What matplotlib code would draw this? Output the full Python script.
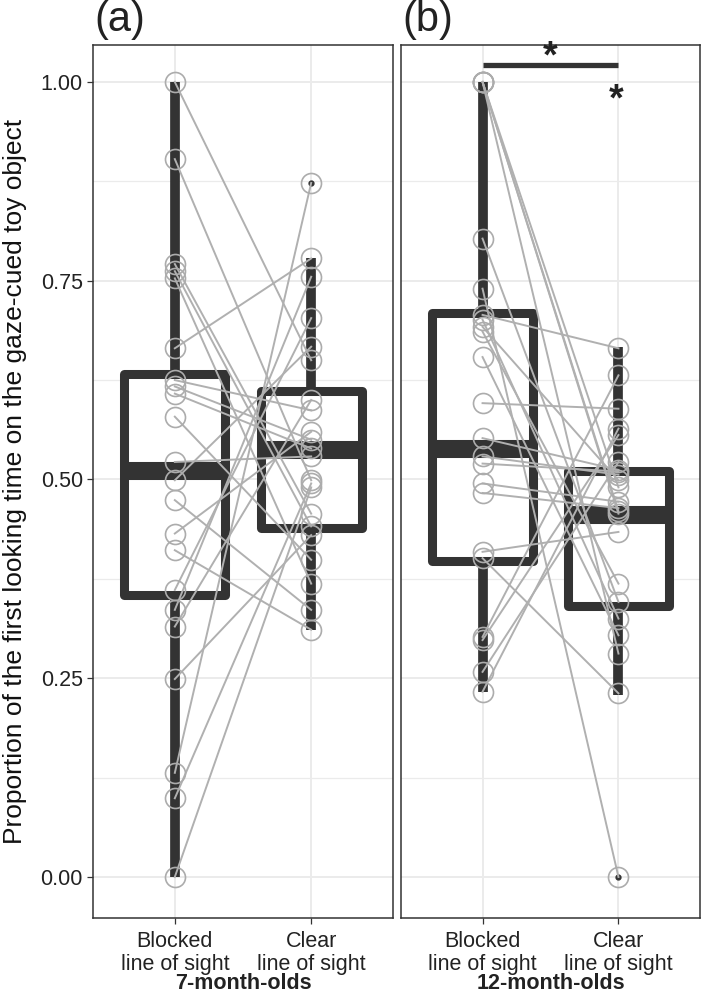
import matplotlib
matplotlib.use('Agg')
import matplotlib.pyplot as plt
import numpy as np

plt.rcParams['font.family'] = ['Liberation Sans', 'DejaVu Sans']

conditions = ['Blocked\nline of sight', 'Clear\nline of sight']
groups = ['7-month-olds', '12-month-olds']
tags = ['(a)', '(b)']

# paired values, index i is the same infant in both conditions
blocked_7 = [1.0, 0.903, 0.771, 0.762, 0.753, 0.665, 0.625, 0.617, 0.608, 0.579, 0.522,
             0.499, 0.474, 0.432, 0.411, 0.361, 0.336, 0.315, 0.249, 0.131, 0.099, 0.0]
clear_7 = [0.650, 0.499, 0.457, 0.441, 0.369, 0.778, 0.587, 0.550, 0.539, 0.399, 0.529,
           0.667, 0.336, 0.560, 0.311, 0.703, 0.755, 0.600, 0.430, 0.873, 0.495, 0.490]

blocked_12 = [1.0, 1.0, 1.0, 1.0, 0.803, 0.740, 0.707, 0.701, 0.692, 0.686, 0.654, 0.596,
              0.552, 0.529, 0.520, 0.495, 0.483, 0.409, 0.401, 0.302, 0.298, 0.258, 0.233]
clear_12 = [0.281, 0.457, 0.460, 0.490, 0.346, 0.0, 0.665, 0.325, 0.499, 0.369, 0.304, 0.589,
            0.512, 0.506, 0.510, 0.472, 0.464, 0.434, 0.231, 0.631, 0.556, 0.522, 0.564]

# box summaries: q1, median, q3, whisker ends, outliers
q1_7 = [0.355, 0.439]
med_7 = [0.511, 0.537]
q3_7 = [0.633, 0.611]
wlo_7 = [0.0, 0.311]
whi_7 = [1.0, 0.778]
out_7 = [[], [0.873]]

q1_12 = [0.398, 0.341]
med_12 = [0.538, 0.455]
q3_12 = [0.709, 0.511]
wlo_12 = [0.233, 0.229]
whi_12 = [1.0, 0.667]
out_12 = [[], [0.0]]

dark = '#333333'
fs = 15.5

fig = plt.figure(figsize=(7.06, 9.99), dpi=100)
ax_a = fig.add_axes([93 / 706, 81 / 999, 300 / 706, 873 / 999])
ax_b = fig.add_axes([401 / 706, 81 / 999, 299 / 706, 873 / 999])

panels = [
    (ax_a, blocked_7, clear_7, q1_7, med_7, q3_7, wlo_7, whi_7, out_7),
    (ax_b, blocked_12, clear_12, q1_12, med_12, q3_12, wlo_12, whi_12, out_12),
]

for k, (ax, b, c, q1, med, q3, wlo, whi, outs) in enumerate(panels):
    stats = []
    for j in range(2):
        stats.append(dict(q1=q1[j], med=med[j], q3=q3[j], whislo=wlo[j], whishi=whi[j],
                          fliers=outs[j]))
    ax.bxp(stats, positions=[1, 2], widths=0.74, patch_artist=True, showcaps=False,
           boxprops=dict(facecolor='white', edgecolor=dark, linewidth=6.5, joinstyle='round'),
           medianprops=dict(color=dark, linewidth=13, solid_capstyle='butt'),
           whiskerprops=dict(color=dark, linewidth=7, solid_capstyle='butt'),
           flierprops=dict(marker='o', markersize=3.5, markerfacecolor=dark,
                           markeredgecolor=dark), zorder=2)

    for yb, yc in zip(b, c):
        ax.plot([1, 2], [yb, yc], color='#b0b0b0', lw=1.4, zorder=3)
    ax.plot(np.ones(len(b)), b, 'o', ms=14.4, mfc='none', mec='#acacac', mew=1.2, zorder=4)
    ax.plot(np.full(len(c), 2), c, 'o', ms=14.4, mfc='none', mec='#acacac', mew=1.2, zorder=4)

    ax.set_xlim(0.4, 2.6)
    ax.set_ylim(-0.0516, 1.0465)
    ax.set_xticks([1, 2])
    ax.set_xticklabels(conditions, fontsize=fs, color='#222222', linespacing=1.1)
    ax.set_yticks([0, 0.25, 0.5, 0.75, 1.0])
    ax.set_yticks([0.125, 0.375, 0.625, 0.875], minor=True)
    ax.set_yticklabels(['0.00', '0.25', '0.50', '0.75', '1.00'], fontsize=fs, color='#222222')
    ax.grid(which='major', color='#ebebeb', lw=1.4)
    ax.grid(which='minor', axis='y', color='#ebebeb', lw=0.9)
    ax.set_axisbelow(True)
    ax.tick_params(axis='both', which='major', length=4.3, width=0.9, color=dark, pad=3)
    ax.tick_params(axis='x', which='major', pad=5)
    ax.tick_params(axis='y', which='minor', length=0)
    for s in ax.spines.values():
        s.set_color(dark)
        s.set_linewidth(1.1)
    ax.set_xlabel(groups[k], fontsize=fs, fontweight='bold', color='#222222', labelpad=-1)
    ax.text(0.005, 1.006, tags[k], transform=ax.transAxes, fontsize=30, ha='left',
            va='bottom', color='#222222')

ax_b.tick_params(axis='y', which='both', left=False, labelleft=False)

# significance marks
ax_b.plot([1, 2], [1.021, 1.021], color=dark, lw=3.8, solid_capstyle='butt', zorder=3)
ax_b.text(1.5, 1.018, '*', fontsize=27, fontweight='bold', ha='center', va='baseline',
          color='#222222')
ax_b.text(1.98, 0.964, '*', fontsize=27, fontweight='bold', ha='center', va='baseline',
          color='#222222')

fig.text(15 / 706, (81 + 873 / 2) / 999,
         'Proportion of the first looking time on the gaze-cued toy object',
         rotation=90, ha='center', va='center', fontsize=19, color='#111111')

fig.savefig('out.png', dpi=100)
